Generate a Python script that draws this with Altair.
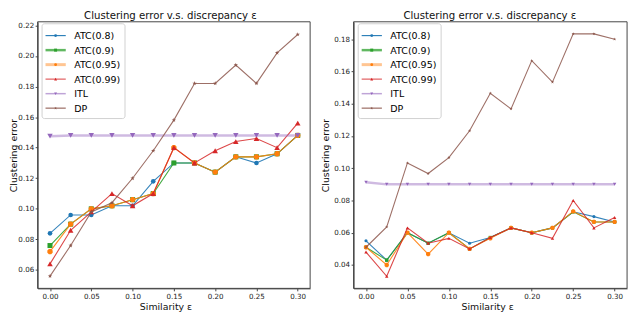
import math
import altair as alt
import pandas as pd

# ---------------- data ----------------
X = [0.0, 0.025, 0.05, 0.075, 0.10, 0.125, 0.15, 0.175, 0.20, 0.225, 0.25, 0.275, 0.30]
SERIES = ["ATC(0.8)", "ATC(0.9)", "ATC(0.95)", "ATC(0.99)", "ITL", "DP"]
TITLES = ["Clustering error v.s. discrepancy ε", "Clustering error v.s. discrepancy ε"]
X_TITLE = "Similarity ε"
Y_TITLE = "Clustering error"
X_TICKS = [0.0, 0.05, 0.10, 0.15, 0.20, 0.25, 0.30]
L_Y_TICKS = [0.06, 0.08, 0.10, 0.12, 0.14, 0.16, 0.18, 0.20, 0.22]
R_Y_TICKS = [0.04, 0.06, 0.08, 0.10, 0.12, 0.14, 0.16, 0.18]

# left panel
L_ATC08 = [0.084, 0.096, 0.096, 0.102, 0.102, 0.118, 0.130, 0.130, 0.124, 0.134, 0.130, 0.136, 0.148]
L_ATC09 = [0.076, 0.090, 0.100, 0.102, 0.106, 0.110, 0.130, 0.130, 0.124, 0.134, 0.134, 0.136, 0.148]
L_ATC095 = [0.072, 0.090, 0.100, 0.102, 0.106, 0.110, 0.140, 0.130, 0.124, 0.134, 0.134, 0.136, 0.148]
L_ATC099 = [0.064, 0.086, 0.098, 0.110, 0.102, 0.110, 0.140, 0.130, 0.138, 0.144, 0.146, 0.140, 0.156]
L_ITL = [0.1475, 0.148, 0.148, 0.148, 0.148, 0.148, 0.148, 0.148, 0.148, 0.148, 0.148, 0.148, 0.148]
L_DP = [0.056, 0.076, 0.098, 0.104, 0.120, 0.138, 0.158, 0.182, 0.182, 0.194, 0.182, 0.202, 0.214]

# right panel
R_ATC08 = [0.055, 0.043, 0.060, 0.0535, 0.060, 0.0535, 0.057, 0.063, 0.060, 0.063, 0.073, 0.070, 0.0667]
R_ATC09 = [0.051, 0.043, 0.060, 0.0535, 0.060, 0.050, 0.057, 0.063, 0.060, 0.063, 0.073, 0.0667, 0.0667]
R_ATC095 = [0.051, 0.040, 0.060, 0.0467, 0.060, 0.050, 0.0565, 0.063, 0.060, 0.063, 0.0733, 0.0667, 0.0667]
R_ATC099 = [0.048, 0.033, 0.063, 0.0535, 0.0565, 0.050, 0.057, 0.063, 0.060, 0.0565, 0.080, 0.063, 0.0695]
R_ITL = [0.0913, 0.090, 0.090, 0.090, 0.090, 0.090, 0.090, 0.090, 0.090, 0.090, 0.090, 0.090, 0.090]
R_DP = [0.051, 0.0636, 0.1033, 0.0967, 0.1066, 0.1232, 0.1465, 0.1368, 0.1667, 0.1534, 0.1833, 0.1833, 0.180]

# ---------------- styling ----------------
FONT = "DejaVu Sans"
COLORS = ["#1f77b4", "#2ca02c", "#ff7f0e", "#d62728", "#9467bd", "#8c564b"]


def poly_path(points):
    return "M" + "L".join(f"{px:.4f},{py:.4f}" for px, py in points) + "Z"


OCTAGON = poly_path([(math.cos(math.radians(22.5 + 45 * k)), math.sin(math.radians(22.5 + 45 * k))) for k in range(8)])
STAR = poly_path([((1.0 if k % 2 == 0 else 0.382) * math.cos(math.radians(-90 + 36 * k)),
                   (1.0 if k % 2 == 0 else 0.382) * math.sin(math.radians(-90 + 36 * k))) for k in range(10)])
SHAPES = ["circle", "square", OCTAGON, "triangle-up", "triangle-down", STAR]

COLOR_SCALE = alt.Scale(domain=SERIES, range=COLORS)
SHAPE_SCALE = alt.Scale(domain=SERIES, range=SHAPES)

LINE_W = [1.1, 1.1, 1.1, 1.1, 2.5, 1.1]
LINE_OP = [0.9, 0.9, 0.9, 0.85, 0.45, 0.85]
LEG_W = [1.1, 2.5, 3.0, 1.5, 1.5, 1.5]
LEG_OP = [1.0, 0.75, 0.45, 0.6, 0.6, 0.7]
L_SIZES = [22, 26, 34, 32, 30, 22]
R_SIZES = [10, 12, 22, 12, 12, 12]

H = 270
X_DOM = [-0.015, 0.315]


def long_table(cols):
    rows = []
    for name, vals in zip(SERIES, cols):
        for xv, v in zip(X, vals):
            rows.append({"x": xv, "value": v, "series": name})
    return pd.DataFrame(rows)


def panel(cols, x0, x1, ydom, yticks, axis_offset, ytitle_x, xtitle_x, sizes, lx):
    df = long_table(cols)
    xs = alt.Scale(domain=X_DOM, range=[x0, x1], nice=False, zero=False)
    ys = alt.Scale(domain=ydom, range=[H, 0], nice=False, zero=False)
    common = dict(domainColor="#444", tickColor="#444", tickSize=2.5, labelPadding=1.5,
                  labelFont=FONT, labelFontSize=7.2, labelColor="#222", grid=False,
                  titleFont=FONT, titleFontSize=9.5, titleFontWeight="normal", titleColor="#111")
    xaxis = alt.Axis(values=X_TICKS, format=".2f", title=X_TITLE, orient="bottom",
                     titleX=xtitle_x, titleY=18.7, titleBaseline="middle", titleAlign="center",
                     labelFlush=False, **common)
    yaxis = alt.Axis(values=yticks, format=".2f", title=Y_TITLE, orient="left", offset=axis_offset,
                     titleX=ytitle_x, titleY=H / 2, titleAngle=270, titleAlign="center",
                     titleBaseline="alphabetic", labelFlush=False, **common)

    base = alt.Chart(df)
    layers = []
    # frame (axes box)
    frame = pd.DataFrame({"a": [X_DOM[0]], "b": [X_DOM[1]], "c": [ydom[0]], "d": [ydom[1]]})
    layers.append(alt.Chart(frame).mark_rect(fill="transparent", stroke="#444", strokeWidth=1).encode(
        x=alt.X("a:Q", scale=xs, axis=xaxis), x2="b:Q",
        y=alt.Y("c:Q", scale=ys, axis=yaxis), y2="d:Q"))
    for i, s in enumerate(SERIES):
        f = base.transform_filter(alt.datum.series == s)
        enc = dict(x=alt.X("x:Q", scale=xs, axis=xaxis), y=alt.Y("value:Q", scale=ys, axis=yaxis),
                   color=alt.Color("series:N", scale=COLOR_SCALE, legend=None))
        layers.append(f.mark_line(strokeWidth=LINE_W[i], opacity=LINE_OP[i]).encode(**enc))
        layers.append(f.mark_point(filled=True, size=sizes[i], opacity=1).encode(
            shape=alt.Shape("series:N", scale=SHAPE_SCALE, legend=None), **enc))

    # legend (drawn by hand, matplotlib style)
    leg = pd.DataFrame({"series": SERIES})
    lb = alt.Chart(leg.head(1))
    layers.append(lb.mark_rect(fill="white", fillOpacity=0.85, stroke="#d0d0d0", strokeWidth=1,
                               cornerRadius=2.5).encode(
        x=alt.value(lx), x2=alt.value(lx + 84), y=alt.value(2), y2=alt.value(98)))
    for i, s in enumerate(SERIES):
        ry = 14.0 + 14.7 * i
        row = alt.Chart(leg).transform_filter(alt.datum.series == s)
        col = alt.Color("series:N", scale=COLOR_SCALE, legend=None)
        layers.append(row.mark_rule(strokeWidth=LEG_W[i], opacity=LEG_OP[i]).encode(
            x=alt.value(lx + 3.5), x2=alt.value(lx + 24), y=alt.value(ry), color=col))
        layers.append(row.mark_point(filled=True, size=9, opacity=1).encode(
            x=alt.value(lx + 13.7), y=alt.value(ry), color=col,
            shape=alt.Shape("series:N", scale=SHAPE_SCALE, legend=None)))
        layers.append(row.mark_text(align="left", baseline="middle", font=FONT, fontSize=9.6,
                                    color="#000").encode(
            x=alt.value(lx + 32.5), y=alt.value(ry + 0.5), text="series:N"))
    return alt.layer(*layers)


# group origin sits at page (38, 20): left axes box 38..314, right axes box 358..635
left = panel([L_ATC08, L_ATC09, L_ATC095, L_ATC099, L_ITL, L_DP], 0, 276, [0.048, 0.2223], L_Y_TICKS,
             0, -21, 129.5, L_SIZES, 4.5)
right = panel([R_ATC08, R_ATC09, R_ATC095, R_ATC099, R_ITL, R_DP], 320, 597, [0.0255, 0.1908], R_Y_TICKS,
              -320, -25, 455.3, R_SIZES, 324.7)

tdf = pd.DataFrame({"t": TITLES, "p": ["l", "r"]})
title_left = alt.Chart(tdf).transform_filter(alt.datum.p == "l").mark_text(
    font=FONT, fontSize=10.3, baseline="alphabetic", align="center", color="#111").encode(
    x=alt.value(134.5), y=alt.value(-2.5), text="t:N")
title_right = alt.Chart(tdf).transform_filter(alt.datum.p == "r").mark_text(
    font=FONT, fontSize=10.3, baseline="alphabetic", align="center", color="#111").encode(
    x=alt.value(458), y=alt.value(-2.5), text="t:N")

chart = alt.layer(left, right, title_left, title_right).resolve_scale(
    x="independent", y="independent"
).properties(
    width=597, height=H,
    padding={"left": 30, "top": 12, "right": 5, "bottom": 25},
    autosize=alt.AutoSizeParams(type="none"),
).configure_view(stroke="transparent")

chart.save("out.html", embed_options={"renderer": "svg", "actions": False})
